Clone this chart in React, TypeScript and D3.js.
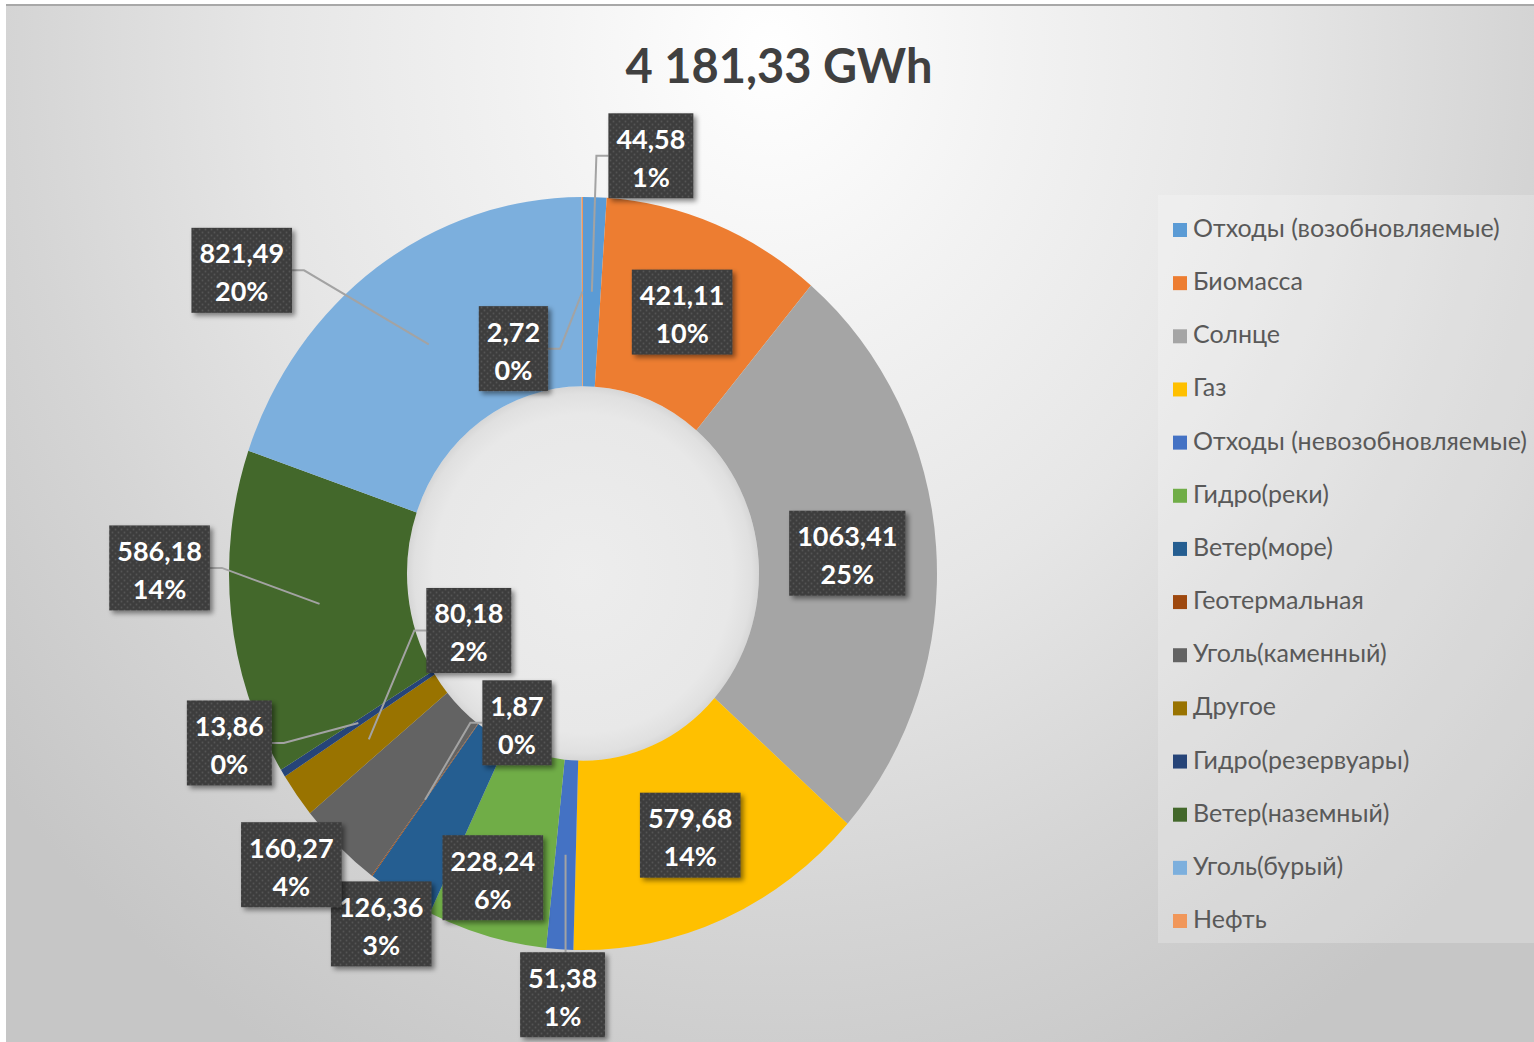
import React, { useRef, useEffect } from "react";
import * as d3 from "d3";

const categories = [
  "Отходы (возобновляемые)",
  "Биомасса",
  "Солнце",
  "Газ",
  "Отходы (невозобновляемые)",
  "Гидро(реки)",
  "Ветер(море)",
  "Геотермальная",
  "Уголь(каменный)",
  "Другое",
  "Гидро(резервуары)",
  "Ветер(наземный)",
  "Уголь(бурый)",
  "Нефть",
];
const values = [44.58, 421.11, 1063.41, 579.68, 51.38, 228.24, 126.36, 1.87, 160.27, 80.18, 13.86, 586.18, 821.49, 2.72];
const percentLabels = ["1%", "10%", "25%", "14%", "1%", "6%", "3%", "0%", "4%", "2%", "0%", "14%", "20%", "0%"];
const colors = [
  "#5B9BD5", "#ED7D31", "#A5A5A5", "#FFC000", "#4472C4", "#70AD47", "#255E91",
  "#9E480E", "#636363", "#997300", "#264478", "#43682B", "#7CAFDD", "#F1975A",
];

// labels were dragged by hand in the original: shift of each box from its slice centroid
const labelShift = [
  [59, -136], [0, 0], [0, 0], [2, 3], [-3, 140], [-18, 33], [-65, 109],
  [92, -77], [-109, 87], [100, -109], [-129, 20], [-160, -36], [-187, -74], [-69, 57],
];
const showLeader = [1, 0, 0, 0, 1, 0, 0, 1, 0, 1, 1, 1, 1, 1];

const W = 1534;
const H = 1042;
const FONT = "Lato, 'Open Sans', sans-serif";

const ru = d3.formatLocale({ decimal: ",", thousands: " ", grouping: [3], currency: ["", ""] });

function App() {
  const ref = useRef<SVGSVGElement>(null);

  useEffect(() => {
    draw();
  }, []);

  const draw = () => {
    const svg = d3.select(ref.current);
    svg.selectAll("*").remove();

    const cx = 583, cy = 573.5;
    const rOuter = 354, rInner = 176, squash = 1.0636;

    const defs = svg.append("defs");

    const bg = defs.append("radialGradient")
      .attr("id", "bg")
      .attr("gradientUnits", "userSpaceOnUse")
      .attr("cx", 770).attr("cy", 50).attr("r", 1000)
      .attr("gradientTransform", "translate(770,50) scale(1,1.15) translate(-770,-50)");
    [[0, "#ffffff"], [0.25, "#f2f2f2"], [0.5, "#e6e6e6"], [0.75, "#d5d5d5"], [1, "#c6c6c6"]]
      .forEach(s => bg.append("stop").attr("offset", s[0]).attr("stop-color", s[1]));

    const hole = defs.append("radialGradient").attr("id", "hole");
    [[0, "#ededed"], [0.85, "#e8e8e8"], [0.96, "#e0e0e0"], [1, "#d6d6d6"]]
      .forEach(s => hole.append("stop").attr("offset", s[0]).attr("stop-color", s[1]));

    const pat = defs.append("pattern")
      .attr("id", "dots")
      .attr("patternUnits", "userSpaceOnUse")
      .attr("width", 6).attr("height", 6);
    pat.append("rect").attr("width", 6).attr("height", 6).attr("fill", "#3d3d3d");
    pat.append("circle").attr("cx", 1.5).attr("cy", 1.5).attr("r", 0.9).attr("fill", "#555");
    pat.append("circle").attr("cx", 4.5).attr("cy", 4.5).attr("r", 0.9).attr("fill", "#555");

    defs.append("filter")
      .attr("id", "shadow")
      .attr("x", "-20%").attr("y", "-20%").attr("width", "150%").attr("height", "150%")
      .append("feDropShadow")
      .attr("dx", 3).attr("dy", 3).attr("stdDeviation", 2.5)
      .attr("flood-color", "#000").attr("flood-opacity", 0.45);

    // background
    svg.append("rect")
      .attr("x", 6).attr("y", 4)
      .attr("width", W - 6).attr("height", H - 4)
      .attr("fill", "url(#bg)");
    svg.append("line")
      .attr("x1", 6).attr("x2", W).attr("y1", 5).attr("y2", 5)
      .attr("stroke", "#a8a8a8").attr("stroke-width", 2);

    // title
    svg.append("text")
      .attr("x", 779).attr("y", 83)
      .attr("text-anchor", "middle")
      .attr("font-family", FONT)
      .attr("font-weight", 700)
      .attr("font-size", 47)
      .attr("fill", "#404040")
      .text(ru.format(",.2f")(d3.sum(values)) + " GWh");

    // doughnut
    const pie = d3.pie<number>().sort(null).value(d => d);
    const arcs = pie(values);
    const arc = d3.arc<d3.PieArcDatum<number>>().innerRadius(rInner).outerRadius(rOuter);

    svg.append("ellipse")
      .attr("cx", cx).attr("cy", cy)
      .attr("rx", rInner).attr("ry", rInner * squash)
      .attr("fill", "url(#hole)");

    const ring = svg.append("g")
      .attr("transform", `translate(${cx},${cy}) scale(1,${squash})`);
    ring.selectAll("path")
      .data(arcs)
      .enter()
      .append("path")
      .attr("d", arc)
      .attr("fill", (d, i) => colors[i]);

    // label positions
    const labels = arcs.map((d, i) => {
      const c = arc.centroid(d);
      const px = cx + c[0], py = cy + c[1] * squash;
      return {
        i,
        px, py,
        x: px + labelShift[i][0],
        y: py + labelShift[i][1],
        value: ru.format(".2f")(values[i]),
        pct: percentLabels[i],
      };
    });

    const boxH = 85;
    const labelG = svg.append("g");

    // measure text widths first
    const tmp = svg.append("text")
      .attr("font-family", FONT).attr("font-weight", 700).attr("font-size", 27);
    const widths = labels.map(l => {
      tmp.text(l.value);
      const a = (tmp.node() as SVGTextElement).getComputedTextLength();
      tmp.text(l.pct);
      const b = (tmp.node() as SVGTextElement).getComputedTextLength();
      return Math.max(a, b, 52) + 16;
    });
    tmp.remove();

    // leader lines
    labels.forEach((l, k) => {
      if (!showLeader[k]) return;
      const w = widths[k];
      const left = l.x - w / 2, right = l.x + w / 2;
      let pts: [number, number][];
      if (l.px >= left && l.px <= right) {
        const y0 = l.py < l.y ? l.y - boxH / 2 : l.y + boxH / 2;
        pts = [[l.px, y0], [l.px, l.py]];
      } else if (l.px < left) {
        pts = [[left, l.y], [left - 12, l.y], [l.px, l.py]];
      } else {
        pts = [[right, l.y], [right + 12, l.y], [l.px, l.py]];
      }
      labelG.append("path")
        .attr("d", d3.line()(pts))
        .attr("fill", "none")
        .attr("stroke", "#a3a3a3")
        .attr("stroke-width", 2);
    });

    // label boxes
    const box = labelG.selectAll("g.lab")
      .data(labels)
      .enter()
      .append("g")
      .attr("class", "lab");

    box.append("rect")
      .attr("x", (d, k) => d.x - widths[k] / 2)
      .attr("y", d => d.y - boxH / 2)
      .attr("width", (d, k) => widths[k])
      .attr("height", boxH)
      .attr("fill", "url(#dots)")
      .attr("filter", "url(#shadow)");

    box.append("text")
      .attr("x", d => d.x)
      .attr("y", d => d.y - 7)
      .attr("text-anchor", "middle")
      .attr("font-family", FONT)
      .attr("font-weight", 700)
      .attr("font-size", 27)
      .attr("fill", "#ffffff")
      .text(d => d.value);

    box.append("text")
      .attr("x", d => d.x)
      .attr("y", d => d.y + 31)
      .attr("text-anchor", "middle")
      .attr("font-family", FONT)
      .attr("font-weight", 700)
      .attr("font-size", 27)
      .attr("fill", "#ffffff")
      .text(d => d.pct);

    // legend
    svg.append("rect")
      .attr("x", 1158).attr("y", 195)
      .attr("width", W - 1158).attr("height", 748)
      .attr("fill", "#ffffff")
      .attr("opacity", 0.22);

    const rowY = d3.scalePoint<string>()
      .domain(categories)
      .range([228, 919]);

    const legend = svg.append("g")
      .selectAll("g")
      .data(categories)
      .enter()
      .append("g")
      .attr("transform", d => `translate(1173,${rowY(d)})`);

    legend.append("rect")
      .attr("x", 0).attr("y", -5)
      .attr("width", 14).attr("height", 14)
      .attr("fill", (d, i) => colors[i]);

    legend.append("text")
      .attr("x", 20).attr("y", 9)
      .attr("font-family", FONT)
      .attr("font-size", 25)
      .attr("fill", "#595959")
      .text(d => d);
  };

  return (
    <svg ref={ref} width={W} height={H} style={{ position: "absolute", left: 0, top: 0 }}>
    </svg>
  );
}

export default App;
